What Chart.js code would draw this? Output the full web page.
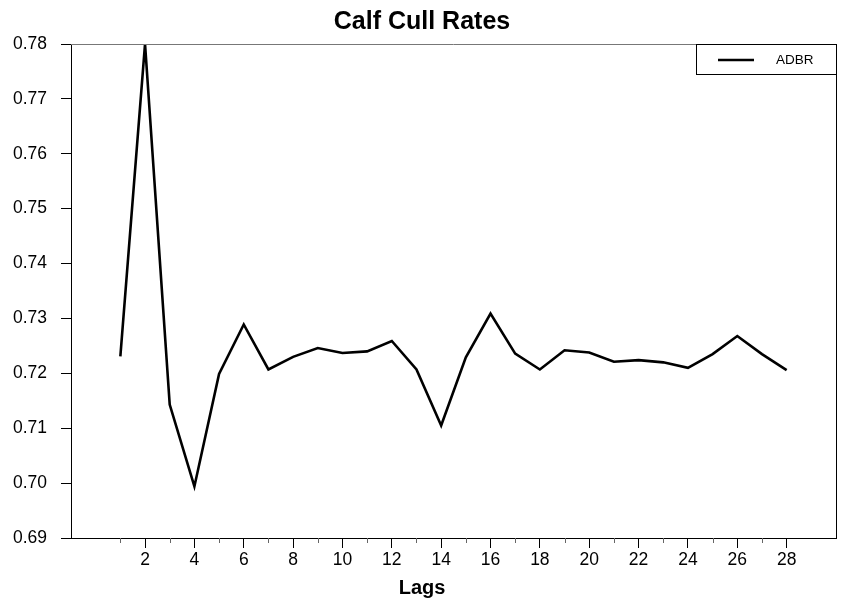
<!DOCTYPE html>
<html>
<head>
<meta charset="utf-8">
<script src="https://cdn.jsdelivr.net/npm/chart.js@4/dist/chart.umd.min.js"></script>
<style>
  html, body { margin: 0; padding: 0; background: #fff; }
  #wrap { width: 844px; height: 603px; }
</style>
</head>
<body>
<div id="wrap"><canvas id="cullChart" width="844" height="603"></canvas></div>
<script>
'use strict'

// data
let lags = [1, 2, 3, 4, 5, 6, 7, 8, 9, 10, 11, 12, 13, 14, 15, 16, 17, 18, 19, 20, 21, 22, 23, 24, 25, 26, 27, 28]
let adbr = [0.7231, 0.7800, 0.7143, 0.6994, 0.7199, 0.7289, 0.7207, 0.7230, 0.7246, 0.7237, 0.7240, 0.7259,
            0.7207, 0.7105, 0.7229, 0.7309, 0.7236, 0.7207, 0.7242, 0.7238, 0.7221, 0.7224, 0.7220, 0.7210,
            0.7235, 0.7268, 0.7235, 0.7206]
let seriesName = 'ADBR'
let yTicks = [0.69, 0.70, 0.71, 0.72, 0.73, 0.74, 0.75, 0.76, 0.77, 0.78]

let font = "'Liberation Sans', Arial, sans-serif"
let ctx = document.getElementById('cullChart').getContext('2d')

// frame, minor ticks and the boxed legend
let framePlugin = {
    id: 'frame',
    afterDraw(chart) {
        let c = chart.ctx
        let a = chart.chartArea
        let xs = chart.scales.x
        c.save()
        // top and right border
        c.lineWidth = 1
        c.strokeStyle = '#777'
        c.beginPath()
        c.moveTo(a.left, a.top + 0.5)
        c.lineTo(a.right, a.top + 0.5)
        c.stroke()
        c.strokeStyle = '#000'
        c.beginPath()
        c.moveTo(a.right + 0.5, a.top)
        c.lineTo(a.right + 0.5, a.bottom)
        c.stroke()

        // short ticks on odd lags
        c.strokeStyle = '#666'
        lags.forEach(v => {
            if (v % 2 === 1) {
                let px = Math.round(xs.getPixelForValue(v)) + 0.5
                c.beginPath()
                c.moveTo(px, a.bottom)
                c.lineTo(px, a.bottom + 5)
                c.stroke()
            }
        })

        // legend box
        let bw = 140, bh = 30
        let bx = a.right - bw, by = a.top
        c.fillStyle = '#fff'
        c.fillRect(bx, by, bw, bh)
        c.strokeStyle = '#000'
        c.strokeRect(bx + 0.5, by + 0.5, bw, bh)
        let ds = chart.data.datasets[0]
        c.strokeStyle = ds.borderColor
        c.lineWidth = 2.5
        c.beginPath()
        c.moveTo(bx + 22, by + 16)
        c.lineTo(bx + 58, by + 16)
        c.stroke()
        c.fillStyle = '#000'
        c.font = '13.5px ' + font
        c.textBaseline = 'middle'
        c.fillText(ds.label, bx + 80, by + 16)
        c.restore()
    }
}

let cullChart = new Chart(ctx, {
    type: 'line',
    data: {
        datasets: [{
            label: seriesName,
            data: lags.map((v, i) => ({ x: v, y: adbr[i] })),
            borderColor: '#000',
            borderWidth: 2.6,
            pointRadius: 0,
            tension: 0,
            fill: false
        }]
    },
    options: {
        responsive: false,
        animation: false,
        layout: { padding: { left: 8, right: 8, top: 0, bottom: 0 } },
        plugins: {
            legend: { display: false },
            tooltip: { enabled: false },
            title: {
                display: true,
                text: 'Calf Cull Rates',
                color: '#000',
                font: { family: font, size: 25, weight: 'bold' },
                padding: { top: 7, bottom: 7 }
            },
            subtitle: {
                display: true,
                position: 'bottom',
                text: 'Lags',
                color: '#000',
                font: { family: font, size: 20, weight: 'bold' },
                padding: { top: 0, bottom: 3 }
            }
        },
        scales: {
            x: {
                type: 'linear',
                min: -1,
                max: 30,
                afterBuildTicks: scale => { scale.ticks = lags.map(v => ({ value: v })) },
                afterFit: scale => { scale.height = 38 },
                grid: {
                    drawOnChartArea: false,
                    tickLength: 10,
                    tickColor: c => (c.tick && c.tick.value % 2 === 0) ? '#000' : 'rgba(0,0,0,0)'
                },
                border: { color: '#000', width: 1 },
                ticks: {
                    autoSkip: false,
                    maxRotation: 0,
                    padding: 2,
                    color: '#000',
                    font: { family: font, size: 17.5 },
                    callback: v => v % 2 === 0 ? String(v) : ''
                }
            },
            y: {
                min: 0.69,
                max: 0.78,
                afterBuildTicks: scale => { scale.ticks = yTicks.map(v => ({ value: v })) },
                afterFit: scale => { scale.width = 63 },
                grid: { drawOnChartArea: false, tickLength: 10, tickColor: '#000' },
                border: { color: '#000', width: 1 },
                ticks: {
                    padding: 14,
                    color: '#000',
                    font: { family: font, size: 17.5 },
                    callback: v => v.toFixed(2)
                }
            }
        }
    },
    plugins: [framePlugin]
})
</script>
</body>
</html>
